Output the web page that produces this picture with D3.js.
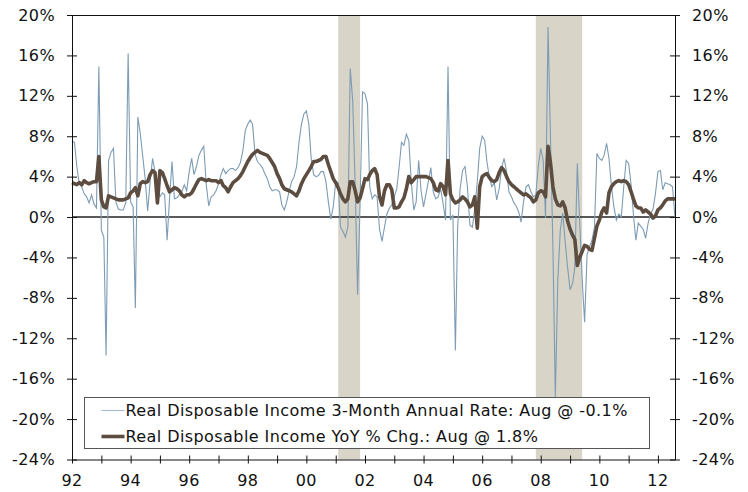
<!DOCTYPE html>
<html>
<head>
<meta charset="utf-8">
<script src="https://cdn.jsdelivr.net/npm/d3@7"></script>
<style>
  body { margin: 0; background: #fff; }
  text { font-family: "DejaVu Sans", Verdana, sans-serif; fill: #111; }
</style>
</head>
<body>
<svg id="chart" width="748" height="492"></svg>
<script>
// monthly, Jan 1992 - Aug 2012
const startMonth = new Date(1992, 0, 1);

// Real Disposable Income 3-Month Annual Rate
const threeMonth = [
  7.5, 7.4, 5.0, 3.3, 3.0, 2.3, 2.0, 1.4, 2.2, 1.3, 0.9, 14.9,     // 1992
  -1.3, -2.0, -13.7, 5.6, 6.4, 6.8, 1.5, 0.8, 0.7, 0.7, 1.4, 16.2, // 1993
  1.5, 1.0, -9.0, 9.9, 8.3, 6.0, 3.8, 0.6, 3.5, 5.8, 4.5, 3.2,     // 1994
  2.0, 2.4, 2.2, -2.3, 1.8, 5.5, 1.8, 1.9, 2.2, 2.5, 3.2, 2.6,     // 1995
  4.5, 5.8, 4.2, 5.0, 6.1, 6.6, 7.0, 3.2, 1.1, 2.0, 2.2, 2.6,      // 1996
  3.3, 4.2, 4.8, 4.3, 4.6, 4.8, 4.8, 4.6, 4.9, 5.4, 6.6, 8.6,      // 1997
  9.2, 9.6, 9.2, 6.2, 5.5, 5.2, 4.9, 4.3, 3.8, 3.0, 2.6, 2.7,      // 1998
  2.7, 2.5, 1.2, 0.7, 1.5, 2.6, 3.5, 4.0, 5.0, 7.4, 9.2, 10.2,     // 1999
  10.5, 9.2, 5.8, 4.2, 4.0, 4.1, 4.5, 4.5, 3.5, 1.5, -0.2, 1.0,    // 2000
  3.5, 3.4, -1.0, -1.4, -2.0, -1.0, 14.7, 11.5, 3.0, -7.7, 1.5, 12.4, // 2001
  12.2, 11.2, 3.0, 1.8, 2.2, 2.0, -1.2, -2.4, -1.0, 0.3, 0.9, 1.2, // 2002
  2.0, 2.8, 4.8, 7.4, 7.1, 8.2, 7.6, 3.5, 0.7, 1.5, 5.6, 2.6,      // 2003
  1.0, 2.3, 3.5, 4.9, 2.5, 1.8, 2.0, 2.8, 1.3, -0.3, 14.9, -0.3,   // 2004
  0.2, -13.2, -1.0, 2.8, 4.6, 5.0, 3.0, -0.8, -1.0, 0.9, 3.5, 6.8, // 2005
  8.0, 7.6, 5.5, 3.9, 3.0, 3.4, 1.7, 2.8, 4.9, 5.8, 4.5, 2.5,      // 2006
  2.0, 1.4, 1.1, 0.5, -0.5, 1.5, 3.0, 3.2, 2.5, 2.0, 2.2, 5.0,     // 2007
  6.8, 5.6, -0.1, 18.8, 8.0, -3.0, -17.8, -6.2, -1.3, 0.4, -2.5, -5.0, // 2008
  -7.2, -6.6, -5.0, 5.3, -0.5, -6.2, -10.4, -3.7, -2.9, -2.3, -1.0, 6.3, // 2009
  5.8, 5.6, 6.1, 7.3, 5.8, 3.0, 1.0, -0.3, 0.3, 0.0, 3.0, 5.6,     // 2010
  5.3, 3.2, 0.3, -2.3, -0.6, -0.9, -1.2, -2.1, -0.6, 0.3, 0.8, 2.3, // 2011
  4.5, 4.6, 2.7, 3.4, 3.3, 3.2, 3.0, -0.1                          // 2012
];

// Real Disposable Income YoY % Chg.
const yoy = [
  3.4, 3.3, 3.2, 3.4, 3.2, 3.6, 3.4, 3.3, 3.4, 3.5, 3.5, 6.0,      // 1992
  1.7, 1.0, 0.9, 2.1, 2.0, 1.9, 1.8, 1.7, 1.7, 1.7, 1.8, 1.9,      // 1993
  2.4, 2.6, 2.9, 2.1, 3.3, 3.5, 3.4, 3.5, 4.2, 4.6, 4.4, 1.4,      // 1994
  4.6, 4.4, 3.8, 3.1, 2.5, 2.7, 2.9, 2.8, 2.6, 2.2, 2.0, 2.2,      // 1995
  2.2, 2.4, 2.8, 3.3, 3.7, 3.8, 3.7, 3.6, 3.7, 3.6, 3.6, 3.6,      // 1996
  3.4, 3.6, 3.1, 2.9, 2.5, 3.0, 3.4, 3.6, 3.8, 4.1, 4.5, 5.0,      // 1997
  5.5, 5.9, 6.2, 6.4, 6.6, 6.4, 6.3, 6.2, 6.1, 5.8, 5.4, 5.0,      // 1998
  4.3, 3.8, 3.2, 2.8, 2.7, 2.6, 2.5, 2.3, 2.1, 2.6, 3.3, 3.8,      // 1999
  4.2, 4.6, 5.0, 5.5, 5.5, 5.6, 5.7, 6.0, 6.0, 5.2, 4.5, 3.8,      // 2000
  3.4, 2.9, 2.3, 1.8, 1.5, 1.8, 3.5, 3.5, 2.6, 1.5, 1.9, 2.8,      // 2001
  3.8, 3.7, 4.2, 4.6, 4.8, 4.2, 2.0, 1.2, 2.6, 3.2, 3.2, 2.7,      // 2002
  0.9, 0.9, 1.0, 1.5, 1.9, 2.8, 4.0, 3.4, 3.7, 4.0, 4.0, 4.0,      // 2003
  4.0, 4.0, 3.9, 3.8, 3.4, 2.7, 2.6, 3.3, 3.0, 2.2, 5.6, 2.3,      // 2004
  1.7, 1.4, 1.5, 1.7, 2.0, 1.8, 1.5, 1.0, 1.2, 2.0, -1.1, 3.0,     // 2005
  4.0, 4.2, 4.3, 3.9, 3.6, 3.5, 3.7, 4.4, 4.9, 4.6, 4.0, 3.5,      // 2006
  3.2, 3.0, 2.8, 2.6, 2.4, 2.2, 2.3, 2.1, 1.9, 1.5, 1.7, 2.4,      // 2007
  2.6, 2.5, 2.0, 7.0, 5.4, 3.0, 1.8, 1.2, 1.1, 1.5, 0.9, -0.4,     // 2008
  -1.2, -1.8, -2.2, -4.8, -4.0, -3.4, -2.8, -2.9, -3.2, -3.3, -2.1, -0.9, // 2009
  -0.3, 0.5, 0.9, 0.4, 2.4, 3.0, 3.3, 3.5, 3.6, 3.5, 3.6, 3.5,     // 2010
  3.2, 2.5, 1.8, 1.1, 0.9, 0.9, 0.5, 0.7, 0.5, 0.3, -0.1, 0.1,     // 2011
  0.7, 0.9, 1.2, 1.6, 1.8, 1.8, 1.8, 1.8                           // 2012
];

const recessions = [["2001-02-01", "2001-11-01"], ["2007-11-01", "2009-06-01"]];
const yTicks = [20, 16, 12, 8, 4, 0, -4, -8, -12, -16, -20, -24];
const labelYears = [1992, 1994, 1996, 1998, 2000, 2002, 2004, 2006, 2008, 2010, 2012];
const legendLabels = [
  "Real Disposable Income 3-Month Annual Rate: Aug @ -0.1%",
  "Real Disposable Income YoY % Chg.: Aug @ 1.8%"
];

const blue = "#7d9cb4", brown = "#5c4d40", shade = "#d8d4c8";

const margin = {top: 15, right: 73, bottom: 32.5, left: 72};
const svg = d3.select("#chart");
const width = 748 - margin.left - margin.right;
const height = 492 - margin.top - margin.bottom;
const g = svg.append("g").attr("transform", `translate(${margin.left},${margin.top})`);

const months = d3.range(yoy.length).map(i => d3.timeMonth.offset(startMonth, i));
const parse = d3.timeParse("%Y-%m-%d");

const x = d3.scaleTime()
  .domain([startMonth, months[months.length - 1]])
  .range([0, width]);
const y = d3.scaleLinear().domain([-24, 20]).range([height, 0]);

// recession bars
g.selectAll("rect.rec")
  .data(recessions)
  .join("rect")
    .attr("class", "rec")
    .attr("x", d => x(parse(d[0])))
    .attr("width", d => x(parse(d[1])) - x(parse(d[0])))
    .attr("y", 0)
    .attr("height", height)
    .attr("fill", shade);

// zero line
g.append("line")
  .attr("x1", 0).attr("x2", width)
  .attr("y1", y(0)).attr("y2", y(0))
  .attr("stroke", "#222").attr("stroke-width", 1.5);

const line = vals => d3.line()
  .x((d, i) => x(months[i]))
  .y(d => y(d))(vals);

g.append("path").attr("d", line(threeMonth))
  .attr("fill", "none").attr("stroke", blue).attr("stroke-width", 1.1);
g.append("path").attr("d", line(yoy))
  .attr("fill", "none").attr("stroke", brown).attr("stroke-width", 3.6)
  .attr("stroke-linejoin", "round");

// frame top
g.append("line").attr("x1", 0).attr("x2", width).attr("y1", 0.5).attr("y2", 0.5)
  .attr("stroke", "#111");

// y axes
const fmt = d => d + "%";
const yl = g.append("g").call(d3.axisLeft(y).tickValues(yTicks).tickFormat(fmt).tickSizeInner(5).tickSizeOuter(0).tickPadding(12));
const yr = g.append("g").attr("transform", `translate(${width},0)`)
  .call(d3.axisRight(y).tickValues(yTicks).tickFormat(fmt).tickSizeInner(5).tickSizeOuter(0).tickPadding(12));
[yl, yr].forEach(a => {
  a.select(".domain").attr("stroke", "#111");
  a.selectAll(".tick line").attr("stroke", "#111")
    .attr("x1", -5).attr("x2", 5);
  a.selectAll("text").attr("font-size", 16).attr("font-family", "DejaVu Sans")
    .attr("letter-spacing", "0.4px");
});

// x axis
const xa = g.append("g").attr("transform", `translate(0,${height})`)
  .call(d3.axisBottom(x).ticks(d3.timeYear.every(1)).tickFormat("").tickSizeOuter(0));
xa.select(".domain").attr("stroke", "#111");
xa.selectAll(".tick line").attr("stroke", "#111").attr("y1", -4).attr("y2", 4);
xa.selectAll("text.yl")
  .data(labelYears)
  .join("text")
    .attr("class", "yl")
    .attr("x", d => x(new Date(d, 0, 1)))
    .attr("y", 26)
    .attr("text-anchor", "middle")
    .attr("font-size", 16)
    .attr("letter-spacing", "0.4px")
    .text(d => d3.timeFormat("%y")(new Date(d, 0, 1)));

// legend
const lg = g.append("g").attr("transform", "translate(12.5,382.5)");
lg.append("rect").attr("width", 565).attr("height", 51)
  .attr("fill", "#fff").attr("stroke", "#555");
lg.selectAll("line.sw")
  .data(legendLabels)
  .join("line")
    .attr("class", "sw")
    .attr("x1", 17).attr("x2", 40)
    .attr("y1", (d, i) => 13 + i * 26).attr("y2", (d, i) => 13 + i * 26)
    .attr("stroke", (d, i) => i ? brown : "#a9bccb")
    .attr("stroke-width", (d, i) => i ? 3.6 : 1.2);
lg.selectAll("text.lt")
  .data(legendLabels)
  .join("text")
    .attr("class", "lt")
    .attr("x", 41)
    .attr("y", (d, i) => 13 + i * 26)
    .attr("dy", "0.36em")
    .attr("font-size", 16)
    .attr("letter-spacing", "0.42px")
    .text(d => d);
</script>
</body>
</html>
